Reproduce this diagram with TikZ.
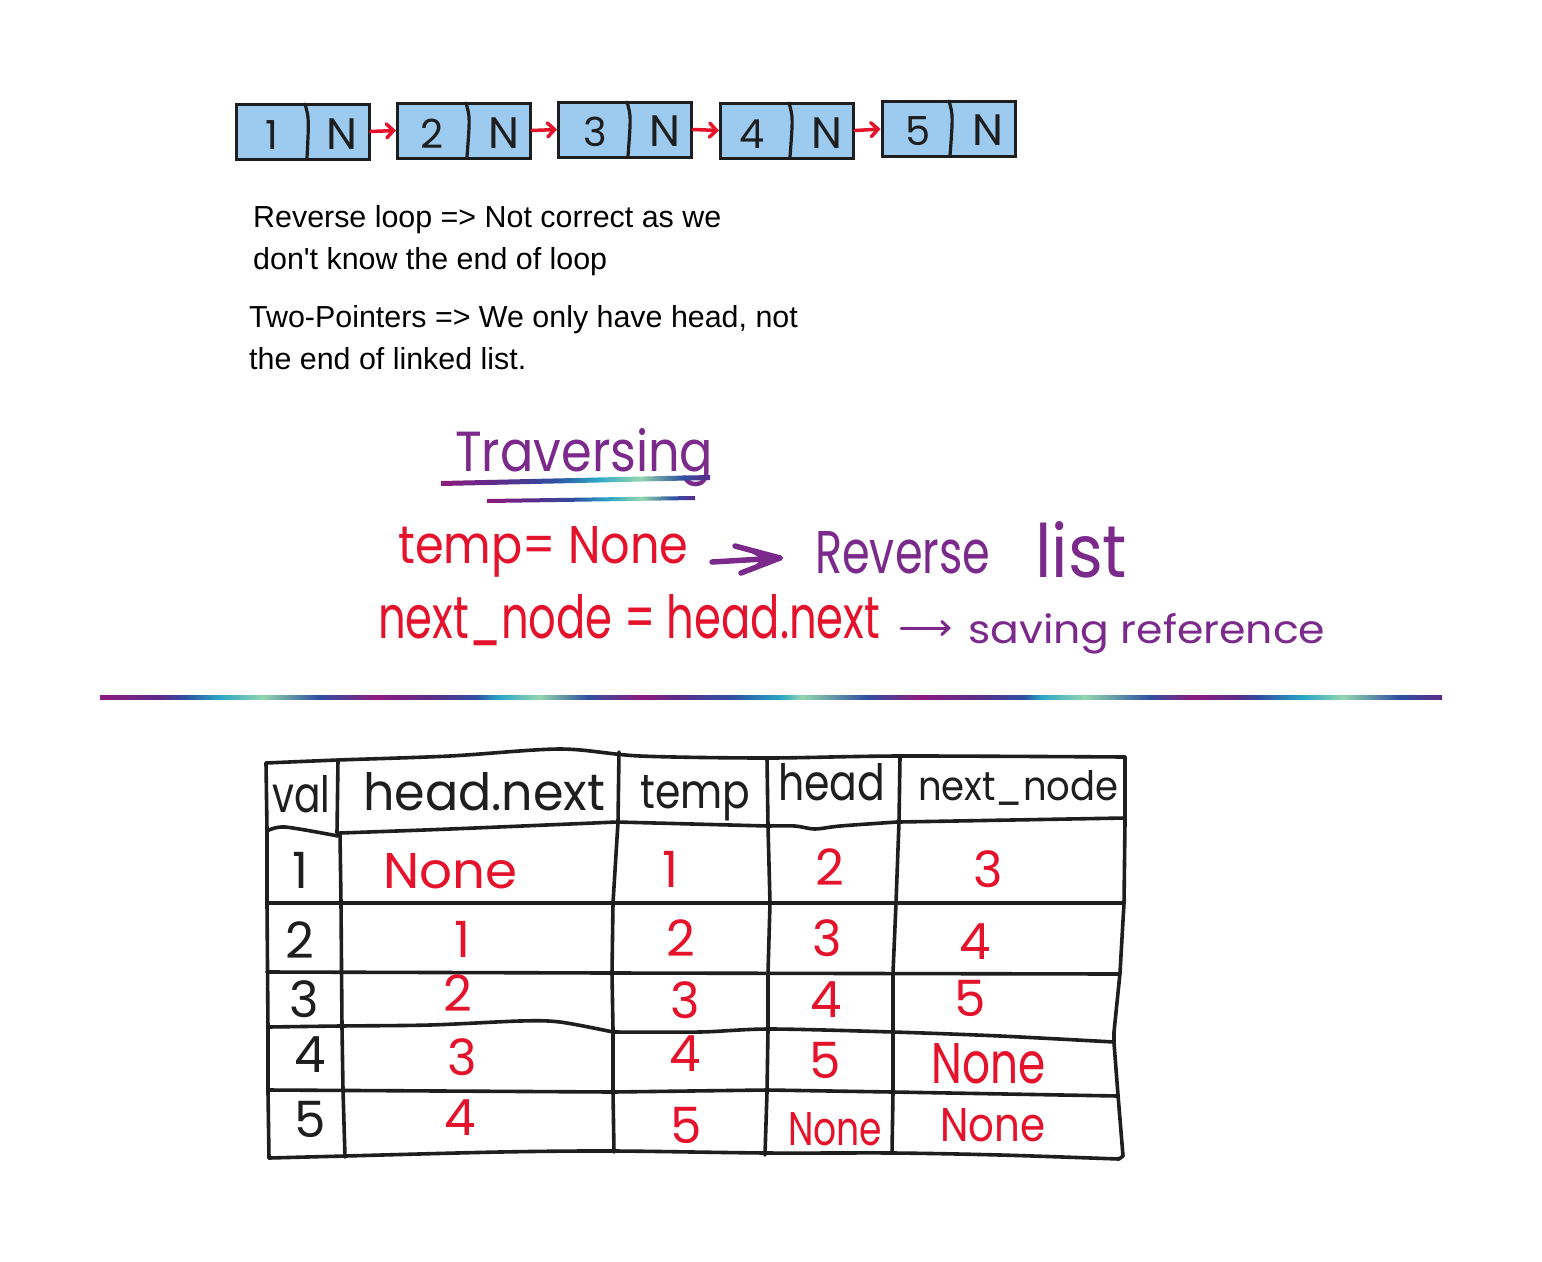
\documentclass[tikz,border=0pt]{standalone}
\usepackage{fontspec}
\usepackage{graphicx}
\setmainfont{Liberation Sans}
\newfontfamily\hand{Poppins}
\usetikzlibrary{arrows.meta}
\definecolor{inkblk}{HTML}{1E1E1E}
\definecolor{llblue}{HTML}{9CCBEF}
\definecolor{hred}{HTML}{E5122B}
\definecolor{hpurp}{HTML}{7B2A8C}
\definecolor{gmg}{HTML}{8E1B7E}
\definecolor{gpp}{HTML}{5B2C8A}
\definecolor{gbl}{HTML}{2E4FA0}
\definecolor{gcy}{HTML}{2BA6C8}
\definecolor{ggr}{HTML}{93D6AE}
\pgfdeclarehorizontalshading{divider}{100bp}{color(0bp)=(gmg); color(25bp)=(gmg);
 color(27.31bp)=(gpp); color(28.17bp)=(gbl); color(29.47bp)=(gcy); color(31.07bp)=(ggr);
 color(33.16bp)=(gbl); color(35.32bp)=(gmg); color(37.33bp)=(gpp); color(39.01bp)=(gbl);
 color(39.87bp)=(gcy); color(41.36bp)=(ggr); color(43.18bp)=(gbl); color(45.19bp)=(gmg);
 color(46.54bp)=(gpp); color(48.55bp)=(gbl); color(50.37bp)=(gcy); color(51.16bp)=(ggr);
 color(53.58bp)=(gbl); color(55.51bp)=(gmg); color(57.64bp)=(gpp); color(59.43bp)=(gbl);
 color(60.06bp)=(gcy); color(61.7bp)=(ggr); color(64.12bp)=(gbl); color(65.76bp)=(gmg);
 color(67.4bp)=(gpp); color(68.22bp)=(gbl); color(69.82bp)=(gcy); color(71.31bp)=(ggr);
 color(73.4bp)=(gbl); color(75bp)=(gpp); color(100bp)=(gpp)}
\pgfdeclarehorizontalshading{ulshade}{100bp}{color(0bp)=(gmg); color(25bp)=(gmg);
 color(36bp)=(gpp); color(46bp)=(gbl); color(54bp)=(gcy); color(62bp)=(ggr);
 color(70bp)=(gbl); color(75bp)=(gpp); color(100bp)=(gpp)}
\newcommand\hw[3]{\resizebox{#1pt}{#2pt}{\hand #3}}
\tikzset{
  llbox/.style={draw=inkblk, line width=3pt, fill=llblue, minimum width=133pt,
    minimum height=55pt, inner sep=0pt},
  divl/.style={draw=inkblk, line width=3.2pt, line cap=round},
  lltxt/.style={inner sep=0pt, text=inkblk, font=\fontsize{44}{44}\hand},
  lldig/.style={inner sep=0pt, text=inkblk, font=\fontsize{40}{40}\hand},
  redarr/.style={draw=hred, line width=3.5pt, line cap=round,
    -{Straight Barb[length=7pt,width=14pt,line cap=round]}},
  txt/.style={inner sep=0pt, anchor=base west, text=black,
    font=\fontsize{30.4}{36}\selectfont},
  hwr/.style={inner sep=0pt, anchor=base west, text=hred},
  hwp/.style={inner sep=0pt, anchor=base west, text=hpurp},
  hwk/.style={inner sep=0pt, anchor=base west, text=inkblk},
  ink/.style={draw=inkblk, line width=3.6pt, line cap=round, line join=round},
  pstroke/.style={draw=hpurp, line width=5.5pt, line cap=round, line join=round},
  rcell/.style={inner sep=0pt, anchor=base, text=hred, font=\fontsize{50}{50}\hand},
  kcell/.style={inner sep=0pt, anchor=base, text=inkblk, font=\fontsize{50}{50}\hand},
}
\begin{document}
\begin{tikzpicture}[x=1pt,y=-1pt]
\useasboundingbox (0,0) rectangle (1542,1261);
\fill[white] (0,0) rectangle (1542,1261);

% ---------- linked list ----------
\node[llbox] (b1) at (302.5,131.5) {};
\node[llbox] (b2) at (464,130.5) {};
\node[llbox] (b3) at (625,129.5) {};
\node[llbox] (b4) at (787,130.5) {};
\node[llbox] (b5) at (948.5,129) {};
\draw[divl] (305,104) .. controls (309,118) .. (307,158);
\draw[divl] (466,103) .. controls (470,117) .. (467,157);
\draw[divl] (627,102) .. controls (631,116) .. (628,156);
\draw[divl] (789,103) .. controls (793,117) .. (790,157);
\draw[divl] (949,101) .. controls (953,115) .. (950,156);
\node[lldig] (v1) at (272,135) {1};
\node[lltxt] (n1) at (342,134) {N};
\node[lldig] (v2) at (432,134) {2};
\node[lltxt] (n2) at (504,133) {N};
\node[lldig] (v3) at (595,132) {3};
\node[lltxt] (n3) at (665,131) {N};
\node[lldig] (v4) at (752,134) {4};
\node[lltxt] (n4) at (827,133) {N};
\node[lldig] (v5) at (918,131) {5};
\node[lltxt] (n5) at (988,130) {N};
\draw[redarr] (b1.east) -- (b2.west);
\draw[redarr] (b2.east) -- (b3.west);
\draw[redarr] (b3.east) -- (b4.west);
\draw[redarr] (b4.east) -- (b5.west);

% ---------- typed notes ----------
\node[txt] (t1) at (253,227) {Reverse loop => Not correct as we};
\node[txt] (t2) at (253,269) {don\textquotesingle t know the end of loop};
\node[txt] (t3) at (249,327) {Two-Pointers => We only have head, not};
\node[txt] (t4) at (249,369) {the end of linked list.};

% ---------- Traversing ----------
\node[hwp] (trav) at (455,471) {\hw{258}{43}{Traversing}};
\shade[shading=ulshade] (441,481) -- (710,475) -- (710,480) -- (441,486) -- cycle;
\shade[shading=ulshade] (487,499) -- (695,496) -- (695,500) -- (487,503) -- cycle;

\node[hwr] (tempn) at (398,563) {\hw{290}{37}{temp= None}};
\coordinate (a1s) at (712,562);
\coordinate (a1e) at (780,558);
\coordinate (a1u) at (735,546);
\coordinate (a1d) at (741,573);
\draw[pstroke] (a1s) -- (a1e);
\draw[pstroke] (a1u) -- (a1e) -- (a1d);
\fill[hpurp] (748,551) -- (a1e) -- (752,568) -- (762,559) -- cycle;
\node[hwp] (rev) at (815,573) {\hw{175}{42}{Reverse}};
\node[hwp] (lst) at (1035,577) {\hw{92}{56}{list}};

\node[hwr] (nxt) at (378,638) {\hw{502}{44}{next\_node = head.next}};
\coordinate (a2s) at (901,628);
\coordinate (a2e) at (951,628);
\draw[draw=hpurp, line width=3pt, line cap=round,
  -{Straight Barb[length=7pt,width=13pt,line cap=round]}] (a2s) -- (a2e);
\node[hwp] (sav) at (968,643) {\hw{357}{30}{saving reference}};

% ---------- divider ----------
\shade[shading=divider] (100,695) rectangle (1442,699.5);

% ---------- table ----------
% outer top
\draw[ink] plot[smooth] coordinates {(266,763) (338,760) (450,756) (560,749) (640,756) (767,758) (900,756) (1125,757)};
% left
\draw[ink] (266,763) -- (267,830) -- (267,903) -- (268,1030) -- (268,1092) -- (269,1158);
% right
\draw[ink] (1125,757) -- (1125,822) -- (1124,903) -- (1120,973) -- (1114,1032) -- (1114,1043) -- (1118,1095) -- (1123,1156) -- (1119,1159);
% bottom
\draw[ink] plot[smooth] coordinates {(269,1158) (345,1156) (500,1152) (613,1151) (767,1153) (893,1153) (1000,1155) (1119,1159)};
% header bottom
\draw[ink] plot[smooth] coordinates {(267,831) (285,827) (338,836)};
\draw[ink] plot[smooth] coordinates {(340,833) (450,829) (617,822)};
\draw[ink] (617,822) -- (768,826);
\draw[ink] plot[smooth] coordinates {(768,826) (795,826) (815,829) (840,826) (897,822)};
\draw[ink] (899,822) -- (1125,818);
% row lines
\draw[ink] (267,903) -- (613,903) -- (1124,903);
\draw[ink] (267,972) -- (612,973) -- (1120,974);
\draw[ink] plot[smooth] coordinates {(268,1027) (340,1026) (430,1025) (520,1021) (560,1022) (613,1032)};
\draw[ink] plot[smooth] coordinates {(613,1032) (700,1032) (770,1029) (893,1032) (1000,1036) (1114,1042)};
\draw[ink] (268,1090) -- (613,1092) -- (767,1090) -- (893,1092) -- (1118,1096);
% column lines
\draw[ink] (338,760) -- (337,833);
\draw[ink] (340,833) -- (341,903) -- (342,1027) -- (343,1090) -- (345,1157);
\draw[ink] (619,752) -- (618,822) -- (613,903) -- (612,973) -- (613,1030) -- (613,1092) -- (614,1152);
\draw[ink] (767,758) -- (768,826) -- (770,903) -- (768,973) -- (768,1030) -- (767,1092) -- (765,1155);
\draw[ink] (900,757) -- (899,822) -- (896,903) -- (893,973) -- (893,1032) -- (893,1092) -- (892,1153);

% headers
\node[hwk] (hval) at (272,812) {\hw{58}{37}{val}};
\node[hwk] (hhn) at (363,810) {\hw{242}{38}{head.next}};
\node[hwk] (htemp) at (640,808) {\hw{110}{33}{temp}};
\node[hwk] (hhead) at (778,800) {\hw{107}{37}{head}};
\node[hwk] (hnn) at (918,800) {\hw{200}{30}{next\_node}};

% row 1
\node[kcell] (c11) at (300,888) {1};
\node[hwr] (c12) at (383,888) {\hw{134}{35}{None}};
\node[rcell] (c13) at (670,887) {1};
\node[rcell] (c14) at (830,885) {2};
\node[rcell] (c15) at (988,887) {3};
% row 2
\node[kcell] (c21) at (300,958) {2};
\node[rcell] (c22) at (462,957) {1};
\node[rcell] (c23) at (681,956) {2};
\node[rcell] (c24) at (827,956) {3};
\node[rcell] (c25) at (975,959) {4};
% row 3
\node[kcell] (c31) at (304,1017) {3};
\node[rcell] (c32) at (458,1011) {2};
\node[rcell] (c33) at (685,1018) {3};
\node[rcell] (c34) at (826,1017) {4};
\node[rcell] (c35) at (970,1016) {5};
% row 4
\node[kcell] (c41) at (310,1072) {4};
\node[rcell] (c42) at (462,1075) {3};
\node[rcell] (c43) at (685,1071) {4};
\node[rcell] (c44) at (825,1078) {5};
\node[hwr] (c45) at (931,1083) {\hw{114}{40}{None}};
% row 5
\node[kcell] (c51) at (310,1137) {5};
\node[rcell] (c52) at (460,1135) {4};
\node[rcell] (c53) at (686,1143) {5};
\node[hwr] (c54) at (788,1145) {\hw{94}{33}{None}};
\node[hwr] (c55) at (940,1141) {\hw{105}{33}{None}};
\end{tikzpicture}
\end{document}
